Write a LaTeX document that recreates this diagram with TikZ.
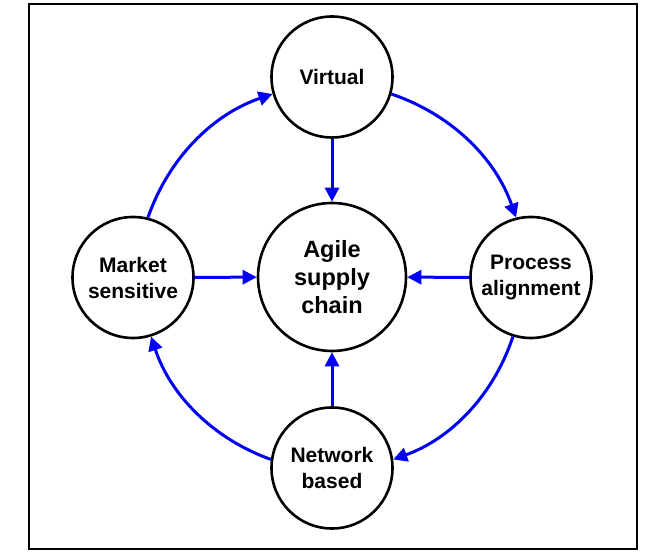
\documentclass[tikz,border=0pt]{standalone}
\usepackage{fontspec}
\setmainfont{Liberation Sans}
\usetikzlibrary{arrows.meta}
\begin{document}
\begin{tikzpicture}[x=1pt,y=1pt,
  circ/.style={circle,draw=black,line width=2.6pt,fill=white,inner sep=0pt,align=center,
    minimum size=121pt,font=\fontsize{21}{26}\selectfont\bfseries},
  bigcirc/.style={circ,minimum size=148pt,font=\fontsize{23.5}{28}\selectfont\bfseries},
  flow/.style={draw={rgb,255:red,0;green,0;blue,245},line width=3pt,
    -{Triangle[length=14pt,width=14pt]}}]
\useasboundingbox (0,0) rectangle (672,559);
\draw[line width=1.8pt] (29,10) rectangle (637,555);
\node[bigcirc] (agile) at (332,282) {Agile\\supply\\chain};
\node[circ] (virtual) at (332,482) {Virtual};
\node[circ] (network) at (332,91) {Network\\based};
\node[circ] (market) at (133,281.5) {Market\\sensitive};
\node[circ] (process) at (531,281.5) {Process\\alignment};
\draw[flow] (virtual) -- (agile);
\draw[flow] (network) -- (agile);
\draw[flow] (market) -- (agile);
\draw[flow] (process) -- (agile);
\draw[flow] (market.76) to[bend left=26,looseness=0.92] (virtual.196);
\draw[flow] (virtual.-16) to[bend left=26,looseness=0.92] (process.104);
\draw[flow] (process.253) to[bend left=26,looseness=0.92] (network.8);
\draw[flow] (network.172) to[bend left=26,looseness=0.92] (market.287);
\end{tikzpicture}
\end{document}
